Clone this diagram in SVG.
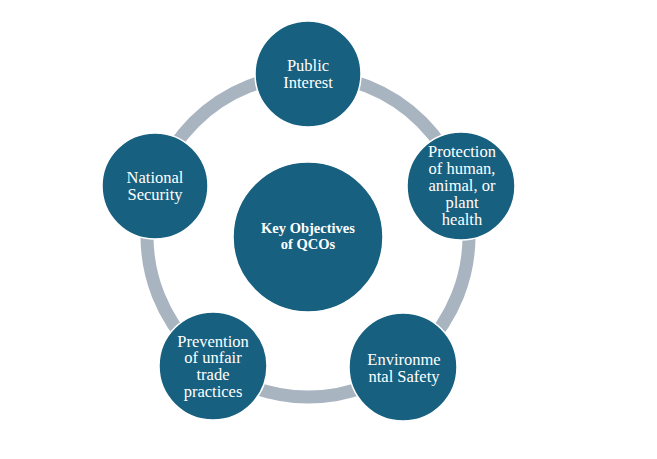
<svg xmlns="http://www.w3.org/2000/svg" width="657" height="459" viewBox="0 0 657 459">
<style>
.node{fill:#17607F;stroke:#ffffff;stroke-width:1.5}
.t{font-family:"Liberation Serif","Times New Roman",serif;font-size:16.5px;fill:#ffffff;text-anchor:middle}
.tb{font-family:"Liberation Serif","Times New Roman",serif;font-size:14.5px;font-weight:bold;fill:#ffffff;text-anchor:middle}
.ring{fill:none;stroke:#A8B4C0;stroke-width:13}
</style>
<rect width="657" height="459" fill="#ffffff"/>
<g id="connectors">
<circle class="ring" cx="308" cy="236" r="161"/>
</g>
<g id="center">
<circle class="node" cx="308" cy="237" r="75"/>
<text class="tb" x="308" y="233">Key Objectives</text>
<text class="tb" x="308" y="249">of QCOs</text>
</g>
<g id="public-interest">
<circle class="node" cx="308" cy="74" r="53"/>
<text class="t" x="308" y="71">Public</text>
<text class="t" x="308" y="88">Interest</text>
</g>
<g id="protection">
<circle class="node" cx="461" cy="186" r="54"/>
<text class="t" x="462" y="157">Protection</text>
<text class="t" x="462" y="174">of human,</text>
<text class="t" x="462" y="191">animal, or</text>
<text class="t" x="462" y="208">plant</text>
<text class="t" x="462" y="225">health</text>
</g>
<g id="environmental-safety">
<circle class="node" cx="403" cy="367" r="54"/>
<text class="t" x="404" y="365">Environme</text>
<text class="t" x="404" y="382">ntal Safety</text>
</g>
<g id="prevention">
<circle class="node" cx="213" cy="366" r="54"/>
<text class="t" x="213" y="347">Prevention</text>
<text class="t" x="213" y="363">of unfair</text>
<text class="t" x="213" y="380">trade</text>
<text class="t" x="213" y="397">practices</text>
</g>
<g id="national-security">
<circle class="node" cx="155" cy="186" r="53"/>
<text class="t" x="155" y="183">National</text>
<text class="t" x="155" y="200">Security</text>
</g>
</svg>
